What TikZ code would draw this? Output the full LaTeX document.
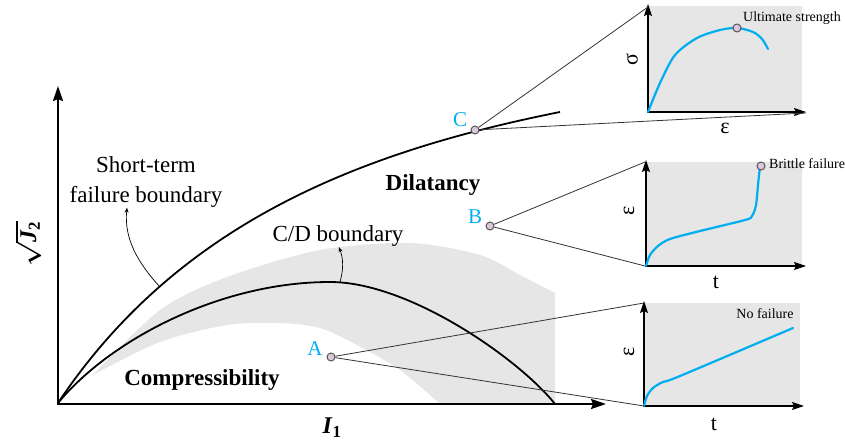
\documentclass[tikz,border=0pt]{standalone}
\usepackage{amsmath}
\usepackage{fontspec}
\setmainfont{Liberation Serif}
\usepackage{tikz}
\usetikzlibrary{arrows.meta,positioning,calc}
\definecolor{cInk}{HTML}{000000}
\definecolor{cCyan}{HTML}{00AEEF}
\definecolor{cBand}{HTML}{E6E6E6}
\definecolor{cLead}{HTML}{333333}
\definecolor{cDot}{HTML}{DCC8DA}
\definecolor{cDotRim}{HTML}{555555}
\tikzset{
  ax/.style={{Stealth[length=15pt,width=10pt,inset=2pt]}-{Stealth[length=15pt,width=10pt,inset=2pt]},line width=2.2pt,color=cInk,line join=miter},
  iax/.style={{Stealth[length=12pt,width=8pt,inset=2pt]}-{Stealth[length=12pt,width=8pt,inset=2pt]},line width=1.4pt,color=cInk,line join=miter},
  bound/.style={line width=1.8pt,color=cInk},
  resp/.style={line width=2.2pt,color=cCyan,line cap=round},
  lead/.style={line width=0.8pt,color=cLead},
  note/.style={-{Stealth[length=5pt,width=4pt]},line width=0.7pt,color=cInk},
  pt/.style={circle,draw=cDotRim,fill=cDot,line width=1pt,inner sep=0pt,minimum size=8pt},
  big/.style={font=\fontsize{23}{30}\selectfont,inner sep=0pt},
  bigb/.style={font=\fontsize{23}{30}\selectfont\bfseries,inner sep=0pt},
  ptlbl/.style={font=\fontsize{21}{25}\selectfont,text=cCyan,inner sep=0pt},
  smalltxt/.style={font=\fontsize{14}{16}\selectfont,inner sep=0pt},
  axlbl/.style={font=\fontsize{22}{26}\selectfont,inner sep=0pt},
  varlbl/.style={font=\fontsize{24}{28}\selectfont\boldmath,inner sep=0pt},
}

\begin{document}
\begin{tikzpicture}[x=1pt,y=-1pt]
\useasboundingbox (0,0) rectangle (845,443);
% transition band
\fill[cBand] plot[smooth] coordinates {(93,375) (160,310) (227,277) (320,250) (410,243) (480,255) (520,275) (555,293)}
  -- (555,404) -- plot[smooth] coordinates {(440,404) (400,370) (357,345) (320,328) (280,323) (227,325) (160,342) (93,375)} -- cycle;

% main axes
\draw[ax] (58,86) -- (58,404) -- (606,404);
\node[varlbl,rotate=90] (yLbl) at (28,244) {$\sqrt{\textbf{\textit{J}}_{\textbf{2}}}$};
\node[varlbl] (xLbl) at (332,428) {$\textbf{\textit{I}}_{\textbf{1}}$};

% boundaries
\draw[bound] (58,403) .. controls (178,223) and (360,152) .. (560,112);
\draw[bound] (58,403) .. controls (110,340) and (220,282) .. (330,282)
  .. controls (410,282) and (520,360) .. (555,404);

\node[big,align=center] (stLbl) at (146,182) {Short-term\\failure boundary};
\node[big,anchor=base] (cdLbl) at (338,242) {C/D boundary};
\coordinate (stOn) at (160,287);
\coordinate (cdOn) at (340,282);
\draw[note] (stOn) .. controls (137,262) and (124,238) .. ([xshift=-19pt]stLbl.south);
\draw[note] (cdOn) .. controls (344,268) and (343,258) .. ([xshift=1pt]cdLbl.south);

\node[bigb,anchor=base] (dil) at (433,191) {Dilatancy};
\node[bigb,anchor=base] (comp) at (202,385) {Compressibility};

% inset C
\fill[cBand] (648,6) rectangle (802,112);
\draw[iax] (648,4) -- (648,112) -- (806,112);
\draw[resp] plot[smooth] coordinates {(648,112) (660,83) (675,55) (697,38) (720,30) (737,28) (753,32) (762,39) (768,49)};
\node[pt] (peak) at (737,28) {};
\node[smalltxt,anchor=base west] (peakLbl) at (743,22) {Ultimate strength};
\node[axlbl,rotate=90] (sigC) at (632,60) {σ};
\node[axlbl] (epsC) at (725,128) {ε};

% inset B
\fill[cBand] (646,162) rectangle (802,266);
\draw[iax] (646,160) -- (646,266) -- (806,266);
\draw[resp] plot[smooth] coordinates {(646,266) (650,255) (658,246) (670,239) (700,231) (745,220) (752,216) (756,205) (758,185) (760,166)};
\node[pt] (brit) at (761,166) {};
\node[smalltxt,anchor=base west] (britLbl) at (769,169) {Brittle failure};
\node[axlbl,rotate=90] (epsB) at (629,211) {ε};
\node[axlbl] (tB) at (716,282) {t};

% inset A
\fill[cBand] (644,303) rectangle (800,406);
\draw[iax] (644,301) -- (644,406) -- (804,406);
\draw[resp] plot[smooth] coordinates {(644,406) (647,396) (653,388) (663,382) (680,376) (793,328)};
\node[smalltxt,anchor=base] (noLbl) at (765,318) {No failure};
\node[axlbl,rotate=90] (epsA) at (629,352) {ε};
\node[axlbl] (tA) at (714,424) {t};

% states and leaders
\node[pt] (ptA) at (331,357) {};
\node[pt] (ptB) at (490,226) {};
\node[pt] (ptC) at (475,130) {};
\node[ptlbl,anchor=base] (lA) at (315,355) {A};
\node[ptlbl,anchor=base] (lB) at (475,224) {B};
\node[ptlbl,anchor=base] (lC) at (460,127) {C};
\coordinate (cTop) at (648,7);
\coordinate (cBot) at (806,113);
\coordinate (bTop) at (645,162);
\coordinate (bBot) at (645,266);
\coordinate (aTop) at (644,303);
\coordinate (aBot) at (644,406);
\draw[lead] (ptC) -- (cTop);
\draw[lead] (ptC) -- (cBot);
\draw[lead] (ptB) -- (bTop);
\draw[lead] (ptB) -- (bBot);
\draw[lead] (ptA) -- (aTop);
\draw[lead] (ptA) -- (aBot);
\end{tikzpicture}
\end{document}
